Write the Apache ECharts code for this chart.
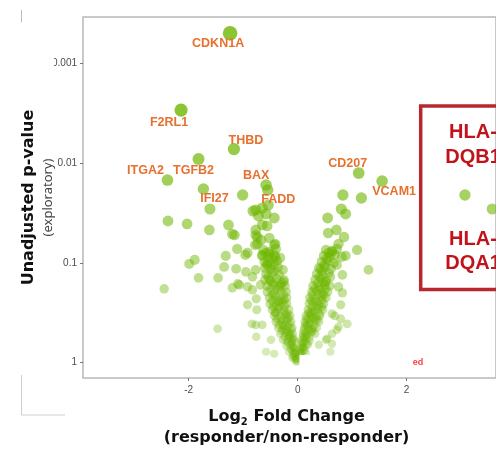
<!DOCTYPE html>
<html>
<head>
<meta charset="utf-8">
<script src="https://cdn.jsdelivr.net/npm/echarts@6/dist/echarts.min.js"></script>
<style>
html,body{margin:0;padding:0;background:#fff;}
#chart{width:496px;height:453px;}
</style>
</head>
<body>
<div id="chart"></div>
<script>
// ---- data (log2 fold change, -log10 unadjusted p-value) ----
const labeledGenes = ['CDKN1A','F2RL1','THBD','TGFB2','ITGA2','IFI27','BAX','FADD','CD207','VCAM1'];
const labeledLog2FC = [-1.24,-2.14,-1.17,-1.82,-2.39,-1.73,-0.58,-0.54,1.12,1.55];
const labeledNegLog10P = [3.30,2.53,2.14,2.04,1.83,1.74,1.78,1.58,1.90,1.82];

const hlaGenes = ['HLA-DQB1','HLA-DQA1'];
const hlaLog2FC = [3.07,3.57];
const hlaNegLog10P = [1.68,1.54];

const leftSparse = [
 [-1.61,1.54],[-0.55,1.73],[-1.01,1.68],[-0.77,1.53],[-0.65,1.55],[-0.43,1.45],[-2.38,1.42],[-2.03,1.39],
 [-1.62,1.33],[-1.27,1.38],[-1.20,1.29],[-0.65,1.38],[-0.74,1.26],[-0.77,1.33],[-1.11,1.14],[-0.92,1.10],
 [-0.78,1.18],[-0.43,1.18],[-1.32,1.07],[-0.96,1.08],[-1.99,0.99],[-1.89,1.03],[-1.35,0.96],[-1.13,0.94],
 [-1.82,0.85],[-1.46,0.85],[-2.45,0.74],[-1.20,0.75],[-1.07,0.78],[-0.92,0.76],[-0.92,0.58],[-0.75,0.53],
 [-1.47,0.34],[-0.77,0.38],[-0.65,0.38],[-0.76,0.26],[-0.58,0.11],[-0.43,0.09],
 [-1.16,1.28],[-0.77,1.28],[-0.74,1.19],[-0.41,1.19],[-0.65,1.08],[-0.52,1.09],[-0.41,1.06],[-0.56,0.99],
 [-0.43,0.98],[-0.95,0.91],[-0.83,0.86],[-0.77,0.93],[-1.10,0.79],[-0.83,0.73],[-0.68,0.78],[-0.52,0.83],
 [-0.31,0.78],[-0.25,0.81],[-0.76,0.64],[-0.84,0.39],[-0.49,0.23],[-0.67,1.23],[-0.52,1.25],[-0.56,1.37],
 [-0.82,1.52],[-0.72,1.47],[-0.58,1.49]
];
const rightSparse = [
 [0.83,1.68],[1.17,1.65],[0.55,1.45],[0.80,1.54],[0.88,1.49],[0.71,1.33],[0.56,1.30],[0.85,1.26],
 [1.09,1.13],[0.63,1.11],[0.88,1.07],[0.72,0.98],[1.30,0.93],[0.42,0.94],[0.60,0.86],[0.82,0.88],
 [0.51,0.81],[0.75,0.76],[0.82,0.70],[0.91,0.39],[0.75,0.36],[0.63,0.29],[0.60,0.11],[0.68,0.47],
 [0.52,0.23],[0.79,0.58],[0.39,0.18],[0.79,0.44],[0.63,0.49],[0.72,0.33],[0.63,0.19],[0.54,0.24],
 [0.81,1.06],[0.75,1.19]
];
const leftArm = [
 [-0.63,1.13],[-0.52,1.11],[-0.40,1.14],
 [-0.65,1.07],[-0.54,1.06],[-0.43,1.08],[-0.32,1.05],
 [-0.61,1.01],[-0.51,1.00],[-0.38,1.02],
 [-0.60,0.95],[-0.49,0.94],[-0.36,0.96],[-0.27,0.93],
 [-0.58,0.89],[-0.47,0.90],[-0.34,0.88],
 [-0.60,0.83],[-0.49,0.82],[-0.38,0.84],[-0.25,0.83],
 [-0.56,0.77],[-0.45,0.78],[-0.34,0.76],[-0.23,0.77],
 [-0.56,0.71],[-0.43,0.70],[-0.31,0.72],[-0.21,0.71],
 [-0.52,0.65],[-0.41,0.66],[-0.31,0.64],[-0.20,0.65],
 [-0.51,0.59],[-0.40,0.58],[-0.29,0.60],[-0.20,0.59],
 [-0.47,0.53],[-0.36,0.54],[-0.25,0.52],[-0.16,0.53],
 [-0.43,0.47],[-0.32,0.46],[-0.23,0.48],[-0.14,0.47],
 [-0.40,0.41],[-0.31,0.42],[-0.21,0.40],[-0.12,0.41],
 [-0.36,0.35],[-0.27,0.34],[-0.18,0.36],[-0.10,0.35],
 [-0.32,0.29],[-0.23,0.30],[-0.16,0.28],[-0.09,0.29],
 [-0.27,0.23],[-0.20,0.22],[-0.12,0.24],[-0.07,0.23],
 [-0.21,0.17],[-0.14,0.18],[-0.09,0.16],
 [-0.16,0.11],[-0.10,0.12],[-0.05,0.10],
 [-0.10,0.05],[-0.07,0.06],[-0.03,0.04],
 [-0.02,0.01],[-0.01,0.02],
 [-0.47,0.62],[-0.35,0.61],[-0.25,0.63],
 [-0.41,0.50],[-0.30,0.51],[-0.19,0.49],
 [-0.38,0.44],[-0.27,0.43],[-0.17,0.45],
 [-0.34,0.38],[-0.25,0.37],[-0.15,0.39],
 [-0.29,0.32],[-0.19,0.31],[-0.11,0.33],
 [-0.24,0.26],[-0.15,0.27],[-0.08,0.25],
 [-0.18,0.20],[-0.11,0.19],[-0.05,0.21],
 [-0.13,0.14],[-0.07,0.15],[-0.03,0.13],
 [-0.09,0.08],[-0.04,0.09],
 [-0.05,0.03],[-0.02,0.04],
 [-0.58,1.10],[-0.46,1.04],[-0.56,0.98],[-0.43,0.92],[-0.54,0.86],[-0.43,0.80],[-0.29,0.80],
 [-0.50,0.74],[-0.38,0.74],[-0.26,0.68],[-0.46,0.68],[-0.36,0.62],[-0.45,0.56],[-0.34,0.56],
 [-0.24,0.57],[-0.41,0.50],[-0.20,0.44],[-0.28,0.38],[-0.22,0.33],[-0.14,0.30],[-0.17,0.25],
 [-0.11,0.21],[-0.08,0.15],[-0.06,0.10],[-0.04,0.06]
];
const rightArm = [
 [0.52,1.13],[0.63,1.12],[0.72,1.14],
 [0.48,1.07],[0.59,1.06],[0.68,1.08],
 [0.44,1.01],[0.55,1.02],[0.66,1.00],
 [0.39,0.95],[0.50,0.96],[0.61,0.94],
 [0.35,0.89],[0.46,0.88],[0.57,0.90],
 [0.32,0.83],[0.43,0.84],[0.53,0.82],
 [0.28,0.77],[0.39,0.76],[0.50,0.78],[0.59,0.77],
 [0.26,0.71],[0.35,0.72],[0.46,0.70],[0.55,0.71],
 [0.22,0.65],[0.32,0.64],[0.43,0.66],[0.52,0.65],
 [0.21,0.59],[0.30,0.60],[0.39,0.58],[0.48,0.59],
 [0.19,0.53],[0.28,0.52],[0.37,0.54],[0.46,0.53],
 [0.15,0.47],[0.24,0.48],[0.34,0.46],[0.41,0.47],
 [0.13,0.41],[0.22,0.40],[0.32,0.42],[0.39,0.41],
 [0.12,0.35],[0.19,0.36],[0.28,0.34],[0.35,0.35],
 [0.10,0.29],[0.17,0.28],[0.24,0.30],[0.32,0.29],
 [0.08,0.23],[0.15,0.24],[0.22,0.22],
 [0.06,0.17],[0.12,0.16],[0.19,0.18],
 [0.04,0.11],[0.10,0.12],[0.15,0.10],
 [0.25,0.62],[0.36,0.61],[0.45,0.63],
 [0.20,0.50],[0.30,0.51],[0.40,0.49],
 [0.16,0.44],[0.26,0.45],[0.36,0.43],
 [0.14,0.38],[0.22,0.39],[0.30,0.37],
 [0.11,0.32],[0.20,0.33],[0.27,0.31],
 [0.09,0.26],[0.16,0.27],[0.21,0.25],
 [0.07,0.20],[0.12,0.21],[0.17,0.19],
 [0.05,0.14],[0.09,0.15],[0.13,0.13],
 [0.03,0.08],[0.07,0.09],
 [0.57,1.10],[0.53,1.04],[0.49,0.98],[0.45,0.92],[0.40,0.86],[0.37,0.80],[0.47,0.80],
 [0.31,0.74],[0.42,0.74],[0.51,0.74],[0.27,0.68],[0.38,0.68],[0.48,0.68],[0.26,0.56],
 [0.35,0.56],[0.44,0.56],[0.24,0.50],[0.20,0.44],[0.29,0.44],[0.17,0.38],[0.25,0.33],
 [0.14,0.30],[0.12,0.25],[0.10,0.20],[0.08,0.15],[0.06,0.10]
];

const xTickValues = [-2, 0, 2];
const yTickPValues = [1, 0.1, 0.01, 0.001];
const yTickLabels = ['1', '0.1', '0.01', '0.001'];

// ---- styling helpers ----
const yTickPositions = yTickPValues.map(p => -Math.log10(p));
const labelOffsets = [[-12,10],[-12,12],[12,-9],[-5,11],[-22,-9],[11,10],[-10,-9],[10,-5],[-11,-9],[12,11]];
const green = a => 'rgba(110,182,0,' + Math.min(1, 0.32 + 0.27 * a) + ')';
const sizeOf = v => 8 + 2 * v[1];
const colorOf = p => green(p.value[1]);

const otherPoints = [].concat(leftSparse, rightSparse, leftArm, rightArm);

const chart = echarts.init(document.getElementById('chart'), null, {renderer: 'canvas'});
chart.setOption({
  animation: false,
  backgroundColor: '#ffffff',
  grid: {left: 83, top: 17, right: -2, bottom: 75, show: true, borderColor: '#b8b8b8', borderWidth: 1.5, backgroundColor: 'transparent'},
  xAxis: {
    type: 'value', min: -3.94, max: 3.64,
    axisLine: {show: false, onZero: false},
    splitLine: {show: false},
    axisTick: {show: true, length: 3, lineStyle: {color: '#777'}, customValues: xTickValues},
    axisLabel: {customValues: xTickValues, color: '#4d4d4d', fontSize: 10, fontFamily: 'Liberation Sans', margin: 7},
    name: '{a|Log}{s|2}{a| Fold Change}\n{a|(responder/non-responder)}',
    nameLocation: 'middle', nameGap: 28,
    nameTextStyle: {
      padding: [0, 6, 0, 0],
      rich: {
        a: {fontFamily: 'DejaVu Sans', fontWeight: 'bold', fontSize: 16, lineHeight: 21, color: '#111'},
        s: {fontFamily: 'DejaVu Sans', fontWeight: 'bold', fontSize: 10, lineHeight: 12, verticalAlign: 'bottom', color: '#111'}
      }
    }
  },
  yAxis: {
    type: 'value', min: -0.153, max: 3.463,
    axisLine: {show: false, onZero: false},
    splitLine: {show: false},
    axisTick: {show: true, length: 3, lineStyle: {color: '#777'}, customValues: yTickPositions},
    axisLabel: {
      customValues: yTickPositions, color: '#4d4d4d', fontSize: 10, fontFamily: 'Liberation Sans', margin: 6,
      formatter: v => { const i = yTickPositions.findIndex(t => Math.abs(t - v) < 1e-6); return i >= 0 ? yTickLabels[i] : ''; }
    },
    name: '{a|Unadjusted p-value}\n{b|(exploratory)}',
    nameLocation: 'middle', nameRotate: 90, nameGap: 26, nameMoveOverlap: false,
    nameTextStyle: {
      rich: {
        a: {fontFamily: 'DejaVu Sans', fontWeight: 'bold', fontSize: 16, lineHeight: 20, color: '#111'},
        b: {fontFamily: 'Noto Sans', fontSize: 13, lineHeight: 18, color: '#444'}
      }
    }
  },
  series: [
    {
      name: 'genes', type: 'scatter',
      data: otherPoints,
      symbolSize: sizeOf,
      itemStyle: {color: colorOf},
      emphasis: {disabled: true}
    },
    {
      name: 'HLA', type: 'scatter',
      data: hlaGenes.map((g, i) => ({name: g, value: [hlaLog2FC[i], hlaNegLog10P[i]]})),
      symbolSize: sizeOf,
      itemStyle: {color: colorOf},
      emphasis: {disabled: true}
    },
    {
      name: 'labeled', type: 'scatter',
      data: labeledGenes.map((g, i) => ({name: g, value: [labeledLog2FC[i], labeledNegLog10P[i]], label: {offset: labelOffsets[i]}})),
      symbolSize: sizeOf,
      itemStyle: {color: colorOf},
      label: {
        show: true, position: 'inside', formatter: p => p.name, opacity: 1, textBorderWidth: 0,
        color: '#E8702E', fontFamily: 'Liberation Sans', fontWeight: 'bold', fontSize: 12.5
      },
      emphasis: {disabled: true}
    }
  ],
  graphic: [
    {type: 'rect', z: 100, silent: true, shape: {x: 299.5, y: 355, width: 18, height: 12}, style: {fill: '#ffffff'}},
    {type: 'rect', z: 100, silent: true, shape: {x: 40, y: 56, width: 14, height: 15}, style: {fill: '#ffffff'}},
    {type: 'rect', z: 90, silent: true, shape: {x: 420.7, y: 106, width: 200, height: 183.5}, style: {fill: 'none', stroke: '#B8272E', lineWidth: 3.5}},
    {type: 'text', z: 91, silent: true, x: 473, y: 145, style: {text: 'HLA-\nDQB1', fill: '#C0131B', fontFamily: 'Liberation Sans', fontWeight: 'bold', fontSize: 20, lineHeight: 25, align: 'center', verticalAlign: 'middle'}},
    {type: 'text', z: 91, silent: true, x: 473, y: 251.5, style: {text: 'HLA-\nDQA1', fill: '#C0131B', fontFamily: 'Liberation Sans', fontWeight: 'bold', fontSize: 20, lineHeight: 23.5, align: 'center', verticalAlign: 'middle'}},
    {type: 'text', z: 91, silent: true, x: 418, y: 363, style: {text: 'ed', fill: '#FF3B3B', fontFamily: 'Liberation Sans', fontWeight: 'bold', fontSize: 9, align: 'center', verticalAlign: 'middle'}},
    {type: 'polyline', z: 91, silent: true, shape: {points: [[21.5, 375], [21.5, 415], [65, 415]]}, style: {stroke: '#cfcfcf', lineWidth: 1, fill: 'none'}},
    {type: 'line', z: 91, silent: true, shape: {x1: 21.5, y1: 10, x2: 21.5, y2: 22.5}, style: {stroke: '#bdbdbd', lineWidth: 1}}
  ]
});
</script>
</body>
</html>
